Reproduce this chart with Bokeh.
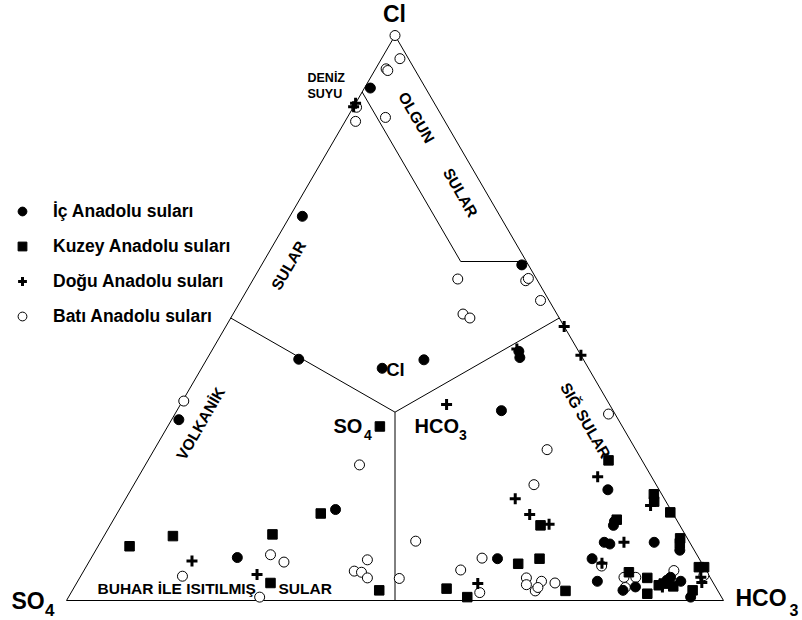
import numpy as np
from bokeh.plotting import figure
from bokeh.models import Legend, LegendItem
from bokeh.embed import file_html
from bokeh.resources import INLINE
from bokeh.core.properties import value

# ---- data: Cl % and HCO3 % (SO4 % = 100 - Cl - HCO3) ----
ic_cl = [90.7, 59.4, 68.0, 42.7, 41.1, 42.6, 44.1, 43.0, 33.6, 19.6,
         13.3, 32.0, 16.1, 7.6, 10.3, 10.0, 10.3, 8.9, 7.4, 3.4,
         1.8, 2.4, 3.6, 3.4, 4.1, 0.6, 7.4, 14.0]
ic_hco3 = [0.9, 39.6, 1.9, 14.0, 27.5, 33.1, 46.8, 47.5, 49.4, 72.6,
           76.6, 1.1, 32.9, 22.2, 76.7, 77.7, 84.3, 88.9, 76.3, 79.1,
           83.8, 85.4, 89.6, 91.8, 89.9, 94.7, 61.9, 76.4]

kuzey_cl = [30.8, 15.4, 9.6, 11.4, 11.7, 3.1, 1.8, 2.1, 0.6, 6.5,
            7.4, 1.7, 13.3, 24.8, 18.8, 17.5, 15.6, 11.0, 10.1, 5.0,
            4.0, 1.2, 2.7, 2.5, 1.8, 5.9, 5.9, 14.3, 3.0]
kuzey_hco3 = [32.3, 31.0, 4.8, 10.5, 25.5, 29.5, 46.7, 56.8, 60.7, 65.5,
              68.3, 75.1, 65.5, 70.1, 80.0, 80.7, 84.1, 87.9, 88.3, 83.1,
              86.4, 87.8, 88.8, 91.1, 94.4, 93.3, 94.1, 76.6, 89.4]

dogu_cl = [88.0, 87.4, 48.5, 43.4, 44.5, 34.7, 21.9, 18.0, 15.2, 13.5,
           16.8, 10.3, 6.6, 2.4, 4.1, 3.2, 3.0, 7.0, 4.6]
dogu_hco3 = [0.0, 0.0, 51.5, 56.6, 46.3, 40.5, 69.9, 59.3, 62.9, 66.7,
             80.5, 79.7, 78.2, 89.5, 94.5, 95.1, 61.1, 15.6, 26.7]

bati_cl = [100, 95.9, 94.1, 93.8, 85.5, 87.3, 84.8, 56.9, 56.6, 57.0,
           53.1, 50.7, 50.0, 33.0, 26.7, 20.5, 35.3, 24.0, 8.1, 6.8,
           4.3, 0.6, 7.2, 5.2, 5.0, 4.0, 3.9, 10.5, 5.4, 7.5,
           1.4, 4.0, 2.8, 3.4, 1.7, 2.3, 3.1, 6.1, 4.1, 4.1,
           2.3, 5.3, 4.4]
bati_hco3 = [0, 2.8, 1.6, 2.0, 5.8, 0.5, 1.6, 31.1, 41.6, 41.8,
             45.6, 35.0, 36.4, 66.0, 59.8, 60.9, 0.2, 32.6, 27.0, 29.7,
             15.5, 29.1, 42.2, 41.2, 42.4, 43.8, 48.7, 47.9, 57.3, 59.5,
             62.2, 68.0, 68.6, 70.6, 70.5, 70.6, 72.8, 78.4, 82.8, 84.6,
             83.9, 89.8, 94.8]

series_labels = ["İç Anadolu suları", "Kuzey Anadolu suları",
                 "Doğu Anadolu suları", "Batı Anadolu suları"]

# region boundaries (Cl %, HCO3 %)
region_lines = [
    ([100 / 3, 50], [100 / 3, 0]),      # centroid -> Cl-SO4 side midpoint
    ([100 / 3, 50], [100 / 3, 50]),     # centroid -> Cl-HCO3 side midpoint
    ([100 / 3, 0], [100 / 3, 50]),      # centroid -> SO4-HCO3 side midpoint
    ([90, 60, 60], [0, 30, 40]),        # mature waters strip
]

S3 = np.sqrt(3) / 2


def tern(cl, hco3):
    cl = np.asarray(cl, float)
    hco3 = np.asarray(hco3, float)
    return hco3 + cl / 2, cl * S3


# pixel helper for label placement (picture pixels)
XS = 6.57
YS = 565 / (100 * S3)
X0, Y0 = 66, 600


def P(px, py):
    return (px - X0) / XS, (Y0 - py) / YS


W, H = 800, 618
p = figure(width=W, height=H, output_backend="svg", toolbar_location=None,
           x_axis_type=None, y_axis_type=None, min_border=0,
           x_range=(P(0, 0)[0], P(W, 0)[0]),
           y_range=(P(0, H)[1], P(0, 0)[1]))
p.grid.visible = False
p.outline_line_color = None
p.background_fill_color = "white"
p.border_fill_color = "white"

# triangle
tx, ty = tern([0, 0, 100, 0], [0, 100, 0, 0])
p.line(tx, ty, line_color="black", line_width=1)
for cl, hc in region_lines:
    x, y = tern(cl, hc)
    p.line(x, y, line_color="black", line_width=1)

# points
x, y = tern(bati_cl, bati_hco3)
r_b = p.scatter(x, y, marker="circle", size=10, fill_color="white",
                line_color="black", line_width=1)
x, y = tern(ic_cl, ic_hco3)
r_i = p.scatter(x, y, marker="circle", size=10, fill_color="black",
                line_color="black")
x, y = tern(kuzey_cl, kuzey_hco3)
r_k = p.scatter(x, y, marker="square", size=9.5, fill_color="black",
                line_color="black")
x, y = tern(dogu_cl, dogu_hco3)
r_d = p.scatter(x, y, marker="cross", size=11, line_color="black",
                line_width=3)

FONT = value("Liberation Sans")


def label(px, py, txt, size, align="center", angle=0.0):
    x, y = P(px, py)
    p.text([x], [y], text=[txt], text_font=FONT, text_font_style="bold",
           text_font_size=size, text_align=align, text_baseline="middle",
           angle=np.deg2rad(angle), text_color="black")


# vertex labels
label(394, 13, "Cl", "23px")
label(11, 600.5, "SO", "23px", "left")
label(44.5, 609, "4", "17px", "left")
label(735, 597.5, "HCO", "23px", "left")
label(789, 609, "3", "16px", "left")

# central labels
label(395, 369.3, "Cl", "18.5px")
label(333, 425.5, "SO", "20px", "left")
label(363.5, 434.5, "4", "14px", "left")
label(414, 425.5, "HCO", "20px", "left")
label(458.5, 434.5, "3", "14px", "left")

# region labels
label(307, 77.7, "DENİZ", "12.5px", "left")
label(307, 93.3, "SUYU", "12.5px", "left")
label(416, 117, "OLGUN", "15.5px", angle=-60)
label(460, 192, "SULAR", "15.5px", angle=-60)
label(288, 265, "SULAR", "15.5px", angle=60)
label(200, 423, "VOLKANİK", "15.5px", angle=60)
label(585, 420, "SIĞ SULAR", "15.5px", angle=-60)
label(97, 588, "BUHAR İLE ISITILMIŞ", "15.5px", "left")
label(278, 588, "SULAR", "15.5px", "left")

legend = Legend(
    items=[LegendItem(label=series_labels[0], renderers=[r_i]),
           LegendItem(label=series_labels[1], renderers=[r_k]),
           LegendItem(label=series_labels[2], renderers=[r_d]),
           LegendItem(label=series_labels[3], renderers=[r_b])],
    location=(11, H - 327), padding=0, margin=0, spacing=13,
    label_standoff=20, glyph_width=22, glyph_height=22, label_height=22,
    border_line_color=None, background_fill_alpha=0,
    label_text_font="Liberation Sans", label_text_font_style="bold",
    label_text_font_size="17.5px", label_text_color="black")
p.add_layout(legend)

open("out.html", "w").write(file_html(p, INLINE))
